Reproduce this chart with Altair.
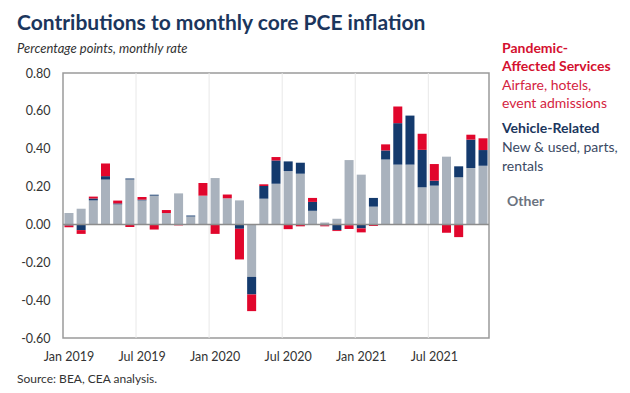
import altair as alt
import pandas as pd

months = [
    "Jan 2019", "Feb 2019", "Mar 2019", "Apr 2019", "May 2019", "Jun 2019",
    "Jul 2019", "Aug 2019", "Sep 2019", "Oct 2019", "Nov 2019", "Dec 2019",
    "Jan 2020", "Feb 2020", "Mar 2020", "Apr 2020", "May 2020", "Jun 2020",
    "Jul 2020", "Aug 2020", "Sep 2020", "Oct 2020", "Nov 2020", "Dec 2020",
    "Jan 2021", "Feb 2021", "Mar 2021", "Apr 2021", "May 2021", "Jun 2021",
    "Jul 2021", "Aug 2021", "Sep 2021", "Oct 2021", "Nov 2021",
]

other = [0.060, 0.083, 0.127, 0.237, 0.106, 0.237, 0.127, 0.152, 0.060, 0.164,
         0.042, 0.152, 0.245, 0.138, 0.127, -0.277, 0.136, 0.215, 0.282, 0.268,
         0.072, 0.010, 0.030, 0.340, 0.263, 0.094, 0.343, 0.316, 0.316, 0.196,
         0.205, 0.358, 0.249, 0.298, 0.310]

vehicle = [-0.005, -0.030, 0.010, 0.018, 0.005, 0.005, 0.004, 0.005, -0.003, 0.000,
           0.005, 0.000, 0.000, 0.000, -0.023, -0.093, 0.067, 0.123, 0.051, 0.058,
           0.047, -0.005, -0.030, -0.004, -0.021, 0.046, 0.048, 0.219, 0.259, 0.198,
           0.026, 0.000, 0.058, 0.150, 0.083]

pandemic = [-0.010, -0.020, 0.010, 0.067, 0.015, -0.013, 0.014, -0.027, 0.016, -0.005,
            -0.003, 0.067, -0.050, 0.020, -0.162, -0.088, 0.009, 0.018, -0.025, -0.010,
            0.021, -0.005, -0.005, -0.020, -0.021, -0.008, 0.032, 0.088, 0.000, 0.085,
            0.088, -0.044, -0.067, 0.026, 0.062]

series_names = ["Other", "Vehicle-Related", "Pandemic-Affected Services"]
series_colors = ["#a9b2bd", "#143a6d", "#e1062c"]

y_ticks = [-0.6, -0.4, -0.2, 0.0, 0.2, 0.4, 0.6, 0.8]

rows = []
for i, m in enumerate(months):
    for k, (name, vals) in enumerate(zip(series_names, [other, vehicle, pandemic])):
        rows.append({"month": m, "series": name, "value": vals[i], "ord": k})
df = pd.DataFrame(rows)

grid_months = [m for m in months if (m.startswith("Jan") or m.startswith("Jul")) and m != months[0]]
grid_df = pd.DataFrame({"month": grid_months})

W, H = 426, 265
FONT = "Lato"

x_scale = alt.Scale(domain=months, paddingInner=0.26, paddingOuter=0.12)
y_scale = alt.Scale(domain=[-0.6, 0.8], nice=False, zero=False)

x_axis = alt.Axis(title=None, labelAngle=0, ticks=False, domain=False, grid=False,
                  labelPadding=12, labelFontSize=12.5, labelColor="#333333",
                  labelFont=FONT, labelFlush=False, labelOverlap=False, bandPosition=0.5,
                  labelExpr="(indexof(datum.label, 'Jan') == 0 || indexof(datum.label, 'Jul') == 0) ? datum.label : ''")
y_axis = alt.Axis(title=None, values=y_ticks, format=".2f", grid=False,
                  ticks=False, domain=False, labelPadding=13,
                  labelFlush=False, labelOverlap=False,
                  labelFontSize=12.5, labelColor="#333333", labelFont=FONT,
                  labelExpr="replace(datum.label, '\u2212', '-')")

bars = alt.Chart(df).mark_bar().encode(
    x=alt.X("month:N", sort=months, scale=x_scale, axis=x_axis),
    y=alt.Y("value:Q", stack="zero", scale=y_scale, axis=y_axis),
    color=alt.Color("series:N", scale=alt.Scale(domain=series_names, range=series_colors),
                    legend=None),
    order=alt.Order("ord:Q", sort="ascending"),
)

grid = alt.Chart(grid_df).mark_rule(color="#e8e8e8", strokeWidth=1, xOffset=-6).encode(
    x=alt.X("month:N", sort=months, scale=x_scale, axis=x_axis),
    y=alt.value(0),
    y2=alt.value(H),
)

zero = alt.Chart(alt.Data(values=[{"value": 0}])).mark_rule(color="#8c8c8c", strokeWidth=1.5).encode(
    y=alt.Y("value:Q", scale=y_scale, axis=y_axis), x=alt.value(0), x2=alt.value(W)
)


def label(text, x, y, size, color, weight="normal", style="normal", lh=18.5, font=FONT):
    return alt.Chart(alt.Data(values=[{"t": text}])).mark_text(
        align="left", baseline="alphabetic", fontSize=size, color=color,
        fontWeight=weight, fontStyle=style, font=font, lineBreak="\n", lineHeight=lh,
    ).encode(text="t:N", x=alt.value(x), y=alt.value(y))


texts = [
    label("Contributions to monthly core PCE inflation", -46, -43, 21, "#1b365d", weight="bold"),
    label("Percentage points, monthly rate", -46, -20, 13, "#333333", style="italic"),
    label("Source: BEA, CEA analysis.", -46, 310, 12, "#333333"),
    label("Pandemic-\nAffected Services", 439, -20.5, 14, "#d4102f", weight="bold"),
    label("Airfare, hotels,\nevent admissions", 439, 16.5, 14, "#d4243f"),
    label("Vehicle-Related", 439, 60, 14, "#1b365d", weight="bold"),
    label("New & used, parts,\nrentals", 439, 79, 14, "#3b4a64"),
    label("Other", 444, 133, 14, "#6b7380", weight="bold"),
]

chart = alt.layer(grid, bars, zero, *texts).properties(
    width=W, height=H,
    padding={"left": 55, "top": 65, "right": 130, "bottom": 48},
    autosize=alt.AutoSizeParams(type="none"),
).configure_view(stroke="#9a9a9a", strokeWidth=1.5)

chart.save("out.html", embed_options={"renderer": "svg", "actions": False})
